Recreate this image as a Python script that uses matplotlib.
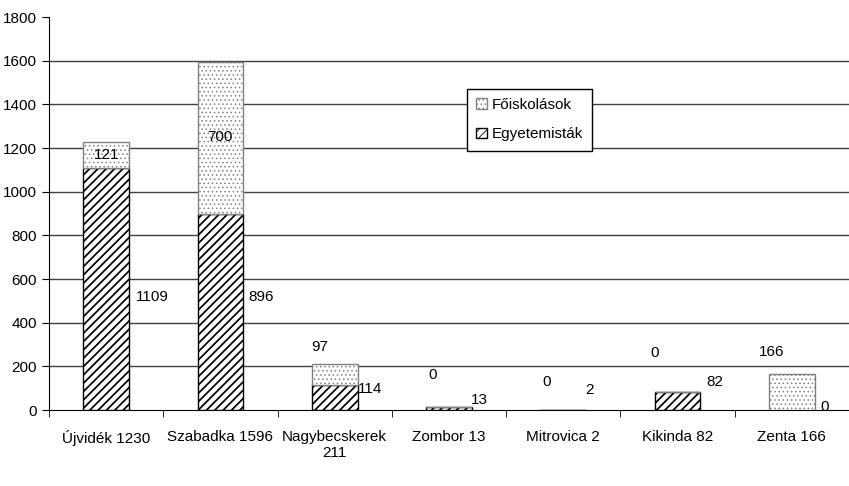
import numpy as np
import matplotlib.pyplot as plt

plt.rcParams["font.family"] = ["Liberation Sans", "DejaVu Sans"]
plt.rcParams["hatch.linewidth"] = 1.25

categories = ["Újvidék 1230", "Szabadka 1596", "Nagybecskerek\n211", "Zombor 13",
              "Mitrovica 2", "Kikinda 82", "Zenta 166"]
egyetemistak = [1109, 896, 114, 13, 2, 82, 0]
foiskolasok = [121, 700, 97, 0, 0, 0, 166]

# label positions (x offset from bar centre, y in data units)
egy_lab_dx = [0.40, 0.36, 0.31, 0.27, 0.23, 0.33, 0.29]
egy_lab_y = [520, 520, 95, 46, 92, 130, 15]
foi_lab_dx = [0.0, 0.0, -0.13, -0.14, -0.15, -0.20, -0.18]
foi_lab_y = [1168, 1250, 290, 160, 130, 261, 267]

x = np.arange(len(categories))
fig = plt.figure(figsize=(8.49, 4.86), dpi=100)
ax = fig.add_axes([0.0577, 0.156, 0.9423, 0.809])

b1 = ax.bar(x, egyetemistak, width=0.4, color="white", edgecolor="black",
            hatch="////", linewidth=1.0, label="Egyetemisták", zorder=3)
plt.rcParams["hatch.linewidth"] = 0.6
b2 = ax.bar(x, foiskolasok, width=0.4, bottom=egyetemistak, color="white",
            edgecolor="#808080", hatch="....", linewidth=1.0, label="Főiskolások", zorder=3)

for i in x:
    ax.text(i + egy_lab_dx[i], egy_lab_y[i], str(egyetemistak[i]), ha="center",
            va="center", fontsize=11, zorder=4)
    ax.text(i + foi_lab_dx[i], foi_lab_y[i], str(foiskolasok[i]), ha="center",
            va="center", fontsize=11, zorder=4)

ax.set_xlim(-0.5, len(categories) - 0.5)
ax.set_ylim(0, 1800)
ax.set_yticks(np.arange(0, 1801, 200))
ax.set_xticks(x)
ax.set_xticklabels(categories, fontsize=11)
ax.set_xticks(np.arange(-0.5, len(categories), 1), minor=True)
ax.tick_params(axis="x", which="major", length=0, pad=14)
ax.tick_params(axis="x", which="minor", length=5, direction="out")
ax.tick_params(axis="y", length=5, direction="out", labelsize=11)
for v in range(200, 1700, 200):
    ax.axhline(v, color="#404040", linewidth=1.0, zorder=1)

for s in ["top", "right"]:
    ax.spines[s].set_visible(False)

leg = ax.legend(handles=[b2, b1], loc="upper left", bbox_to_anchor=(0.5225, 0.817),
                borderaxespad=0, fontsize=11, frameon=True, fancybox=False,
                edgecolor="black", framealpha=1, handlelength=0.7, handleheight=0.7,
                handletextpad=0.3, borderpad=0.6, labelspacing=1.0)
leg.get_frame().set_linewidth(1.0)

fig.savefig("out.png", dpi=100)
